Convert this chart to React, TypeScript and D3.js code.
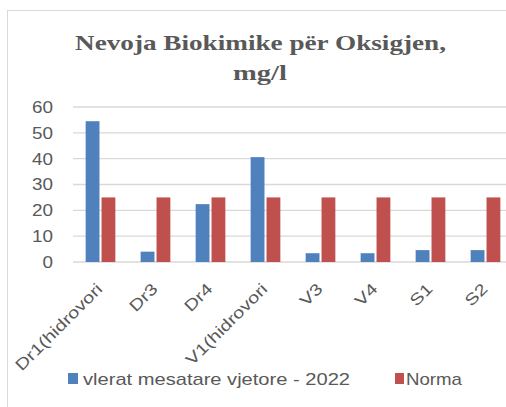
import React from 'react';
import * as d3 from 'd3';

const categories = ['Dr1(hidrovori', 'Dr3', 'Dr4', 'V1(hidrovori', 'V3', 'V4', 'S1', 'S2'];
const annualValues = [54.5, 4, 22.4, 40.6, 3.4, 3.4, 4.6, 4.6];
const normValues = [25, 25, 25, 25, 25, 25, 25, 25];
const seriesNames = ['vlerat mesatare vjetore - 2022', 'Norma'];
const yTicks = [0, 10, 20, 30, 40, 50, 60];

const width = 506;
const height = 407;
const blue = '#4f81bd';
const red = '#c0504d';
const textColor = '#595959';
const gridColor = '#d9d9d9';
const font = '"Liberation Sans", Arial, sans-serif';
const serif = '"Liberation Serif", "Times New Roman", serif';

const App = () => {
  // plot area
  const margin = { top: 107, left: 73, bottom: 262, right: 513 };

  const x = d3.scaleBand<string>()
    .domain(categories)
    .range([margin.left, margin.right])
    .paddingInner(0.46)
    .paddingOuter(0.23);

  const inner = d3.scaleBand<string>()
    .domain(seriesNames)
    .range([0, x.bandwidth()])
    .paddingInner(0.13);

  const y = d3.scaleLinear()
    .domain([0, 60])
    .range([margin.bottom, margin.top]);

  const series = [
    { name: seriesNames[0], values: annualValues, color: blue },
    { name: seriesNames[1], values: normValues, color: red },
  ];

  return (
    <svg width={width} height={height} style={{ position: 'absolute', left: 0, top: 0, background: '#fff' }}>
      {/* chart border */}
      <line x1={7} x2={width} y1={10.5} y2={10.5} stroke={gridColor} />
      <line x1={7.5} x2={7.5} y1={10} y2={height} stroke={gridColor} />

      <text x={75} y={50} fontFamily={serif} fontWeight="bold" fontSize={22} fill={textColor}
        textLength={371} lengthAdjust="spacingAndGlyphs">
        Nevoja Biokimike për Oksigjen,
      </text>
      <text x={233} y={80} fontFamily={serif} fontWeight="bold" fontSize={22} fill={textColor}
        textLength={54} lengthAdjust="spacingAndGlyphs">
        mg/l
      </text>

      {yTicks.map((t) => (
        <g key={t}>
          <line x1={margin.left} x2={width} y1={y(t)} y2={y(t)} stroke={gridColor} strokeWidth={1.3} />
          <text x={53} y={y(t)} dy="0.35em" textAnchor="end" fontFamily={font} fontSize={17} fill={textColor}
            textLength={String(t).length * 10.5} lengthAdjust="spacingAndGlyphs">
            {t}
          </text>
        </g>
      ))}

      {series.map((s) => (
        <g key={s.name}>
          {categories.map((c, i) => (
            <rect
              key={c}
              x={(x(c) ?? 0) + (inner(s.name) ?? 0)}
              y={y(s.values[i])}
              width={inner.bandwidth()}
              height={y(0) - y(s.values[i])}
              fill={s.color}
            />
          ))}
        </g>
      ))}

      {categories.map((c) => {
        const cx = (x(c) ?? 0) + x.bandwidth() / 2 + 3;
        return (
          <text key={c} transform={`translate(${cx},${290}) rotate(-45) scale(1.25,1)`} textAnchor="end"
            fontFamily={font} fontSize={16} fill={textColor}>
            {c}
          </text>
        );
      })}

      {/* legend */}
      <rect x={68} y={373} width={10} height={11} fill={blue} />
      <text x={83} y={385} fontFamily={font} fontSize={17} fill={textColor}
        textLength={267} lengthAdjust="spacingAndGlyphs">{seriesNames[0]}</text>
      <rect x={395} y={373} width={9} height={11} fill={red} />
      <text x={406} y={385} fontFamily={font} fontSize={17} fill={textColor}
        textLength={56} lengthAdjust="spacingAndGlyphs">{seriesNames[1]}</text>
    </svg>
  );
};

export default App;
